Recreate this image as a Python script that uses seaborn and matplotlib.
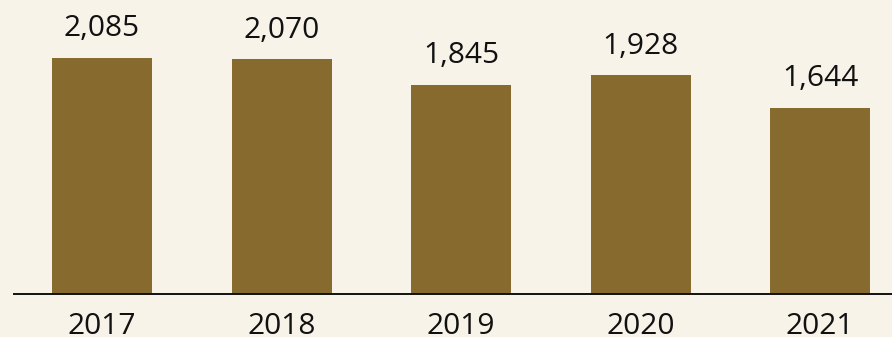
import matplotlib
matplotlib.use("Agg")
import matplotlib.pyplot as plt
import seaborn as sns
import pandas as pd

years = ["2017", "2018", "2019", "2020", "2021"]
values = [2085, 2070, 1845, 1928, 1644]

bg = "#f7f3e9"
bar_color = "#866a2e"

sns.set_theme(style="white")
plt.rcParams["font.family"] = ["Open Sans", "DejaVu Sans"]

df = pd.DataFrame({"year": years, "value": values})

fig = plt.figure(figsize=(8.92, 3.37), dpi=100, facecolor=bg)
ax = fig.add_axes([14 / 892, 43 / 337, 878 / 892, 294 / 337])
ax.set_facecolor(bg)

sns.barplot(data=df, x="year", y="value", color=bar_color, saturation=1,
            width=0.557, linewidth=0, edgecolor=bar_color, ax=ax)

for i, v in enumerate(values):
    ax.annotate(f"{v:,}", xy=(i, v), xytext=(0, 15.5), textcoords="offset points",
                ha="center", va="baseline", fontsize=21.5, color="#111111")

ax.set_xlim(-0.4903, 4.401)
ax.set_ylim(0, 2592)
ax.set_xlabel("")
ax.set_ylabel("")
ax.set_yticks([])
ax.tick_params(axis="x", length=0, pad=13, labelsize=21.5, labelcolor="#111111")
for side in ["left", "right", "top"]:
    ax.spines[side].set_visible(False)
ax.spines["bottom"].set_color("#111111")
ax.spines["bottom"].set_linewidth(1.4)

fig.savefig("out.png", dpi=100, facecolor=bg)
